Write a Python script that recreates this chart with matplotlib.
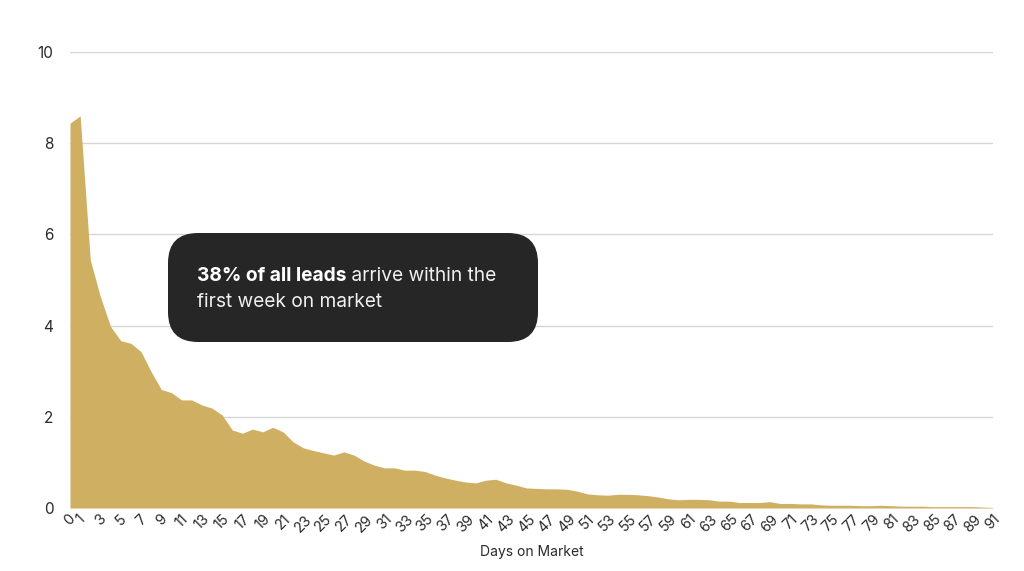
import matplotlib
matplotlib.use("Agg")
import matplotlib.pyplot as plt
import matplotlib.transforms as mtransforms
from matplotlib.patches import FancyBboxPatch
import numpy as np

plt.rcParams['font.family'] = ['Inter', 'DejaVu Sans']

days = list(range(0, 92))
leads_pct = [8.44, 8.60, 5.44, 4.63, 3.98, 3.67, 3.61, 3.43, 2.99, 2.60,
             2.53, 2.37, 2.37, 2.26, 2.19, 2.04, 1.71, 1.64, 1.73, 1.67,
             1.77, 1.67, 1.45, 1.32, 1.26, 1.21, 1.16, 1.23, 1.16, 1.03,
             0.94, 0.88, 0.88, 0.83, 0.83, 0.80, 0.72, 0.66, 0.61, 0.57,
             0.55, 0.61, 0.63, 0.55, 0.50, 0.44, 0.43, 0.42, 0.42, 0.41,
             0.37, 0.31, 0.29, 0.28, 0.30, 0.30, 0.29, 0.27, 0.24, 0.20,
             0.18, 0.19, 0.19, 0.18, 0.15, 0.15, 0.12, 0.12, 0.12, 0.14,
             0.10, 0.10, 0.09, 0.09, 0.07, 0.06, 0.06, 0.06, 0.05, 0.05,
             0.06, 0.05, 0.04, 0.04, 0.04, 0.03, 0.03, 0.03, 0.03, 0.03,
             0.02, 0.01]
x_ticks = [0] + list(range(1, 92, 2))
y_ticks = [0, 2, 4, 6, 8, 10]
x_label = "Days on Market"
note_bold = "38% of all leads"
note_rest_1 = " arrive within the"
note_line_2 = "first week on market"

fig = plt.figure(figsize=(10.24, 5.71), dpi=100)
ax = fig.add_axes([70/1024, 63/571, 923/1024, 456/571])

ax.fill_between(days, leads_pct, 0, color='#CFAF62', linewidth=0, zorder=2)
ax.set_xlim(0, 91)
ax.set_ylim(0, 10)
ax.set_yticks(y_ticks)
ax.set_xticks(x_ticks)
ax.set_xticklabels([str(t) for t in x_ticks], rotation=45, ha='center',
                   fontsize=10.5, color='#2a2a2a')
ax.set_yticklabels([str(t) for t in y_ticks], fontsize=11, color='#2a2a2a')
ax.tick_params(axis='both', length=0)
ax.tick_params(axis='y', pad=12)
ax.tick_params(axis='x', pad=3)
ax.grid(axis='y', color='#d6d6d6', linewidth=1, zorder=0)
ax.set_axisbelow(True)
for s in ax.spines.values():
    s.set_visible(False)
ax.set_xlabel(x_label, fontsize=10, color='#2a2a2a', labelpad=7)

# annotation box in pixel coords
ident = mtransforms.IdentityTransform()
box = FancyBboxPatch((168, 571 - 342), 370, 109,
                     boxstyle="round,pad=0,rounding_size=30",
                     facecolor='#262626', edgecolor='none',
                     transform=ident, zorder=10)
fig.patches.append(box)
fs = 13.8
t1 = fig.text(197, 571 - 281, note_bold, transform=ident, fontsize=fs,
              fontweight='bold', color='white', va='baseline', ha='left', zorder=11)
fig.canvas.draw()
fig.text(0, 0, note_rest_1, transform=mtransforms.offset_copy(
    ident, fig=fig, x=t1.get_window_extent().x1, y=571 - 281, units='dots'),
    fontsize=fs, color='#f0f0f0', va='baseline', ha='left', zorder=11)
fig.text(197, 571 - 307, note_line_2, transform=ident, fontsize=fs,
         color='#f0f0f0', va='baseline', ha='left', zorder=11)

fig.savefig("out.png", dpi=100)
